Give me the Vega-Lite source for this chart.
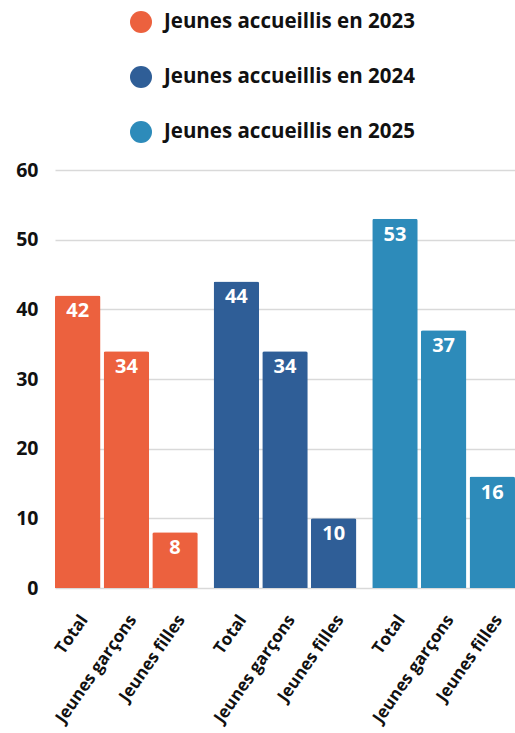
{
  "$schema": "https://vega.github.io/schema/vega-lite/v6.json",
  "width": 460,
  "height": 418,
  "autosize": {"type": "none"},
  "padding": {"left": 55, "top": 170, "right": 0, "bottom": 145},
  "background": "white",
  "config": {
    "view": {"stroke": null},
    "font": "Open Sans"
  },
  "data": {
    "values": [
      {"serie": "Jeunes accueillis en 2023", "categorie": "Total", "valeur": 42},
      {"serie": "Jeunes accueillis en 2023", "categorie": "Jeunes garçons", "valeur": 34},
      {"serie": "Jeunes accueillis en 2023", "categorie": "Jeunes filles", "valeur": 8},
      {"serie": "Jeunes accueillis en 2024", "categorie": "Total", "valeur": 44},
      {"serie": "Jeunes accueillis en 2024", "categorie": "Jeunes garçons", "valeur": 34},
      {"serie": "Jeunes accueillis en 2024", "categorie": "Jeunes filles", "valeur": 10},
      {"serie": "Jeunes accueillis en 2025", "categorie": "Total", "valeur": 53},
      {"serie": "Jeunes accueillis en 2025", "categorie": "Jeunes garçons", "valeur": 37},
      {"serie": "Jeunes accueillis en 2025", "categorie": "Jeunes filles", "valeur": 16}
    ]
  },
  "encoding": {
    "x": {"field": "serie", "type": "nominal", "axis": null, "scale": {"paddingInner": 0.1, "paddingOuter": 0}},
    "xOffset": {"field": "categorie", "type": "nominal", "sort": ["Total", "Jeunes garçons", "Jeunes filles"], "scale": {"paddingInner": 0.065, "paddingOuter": 0}}
  },
  "layer": [
    {
      "mark": {"type": "bar", "cornerRadiusTopLeft": 2, "cornerRadiusTopRight": 2},
      "encoding": {
        "y": {"field": "valeur", "type": "quantitative", "scale": {"domain": [0, 60]},
          "axis": {"title": null, "values": [0, 10, 20, 30, 40, 50, 60], "ticks": false, "domain": false,
            "labelFont": "Open Sans", "labelFontSize": 19.5, "labelFontWeight": "bold", "labelColor": "#111111",
            "labelPadding": 17, "gridColor": "#d9d9d9", "gridWidth": 1.5}},
        "color": {"field": "serie", "type": "nominal",
          "scale": {"range": ["#EC613E", "#2F5E97", "#2D8BBA"]},
          "legend": {"title": null, "orient": "none", "legendX": 75, "legendY": -159,
            "symbolType": "circle", "symbolSize": 484, "symbolStrokeWidth": 0,
            "labelFont": "Open Sans", "labelFontSize": 20.5, "labelFontWeight": "bold", "labelColor": "#111111",
            "labelLimit": 500, "labelOffset": 12, "rowPadding": 33, "padding": 0}}
      }
    },
    {
      "mark": {"type": "text", "baseline": "top", "dy": 6, "color": "white", "font": "Open Sans", "fontSize": 20, "fontWeight": "bold"},
      "encoding": {
        "y": {"field": "valeur", "type": "quantitative"},
        "text": {"field": "valeur", "type": "quantitative"}
      }
    },
    {
      "mark": {"type": "text", "align": "right", "baseline": "middle", "angle": -55, "dx": -20, "dy": 22, "color": "#111111", "font": "Open Sans", "fontSize": 17, "fontWeight": "bold"},
      "encoding": {
        "y": {"datum": 0},
        "text": {"field": "categorie", "type": "nominal"}
      }
    }
  ]
}
